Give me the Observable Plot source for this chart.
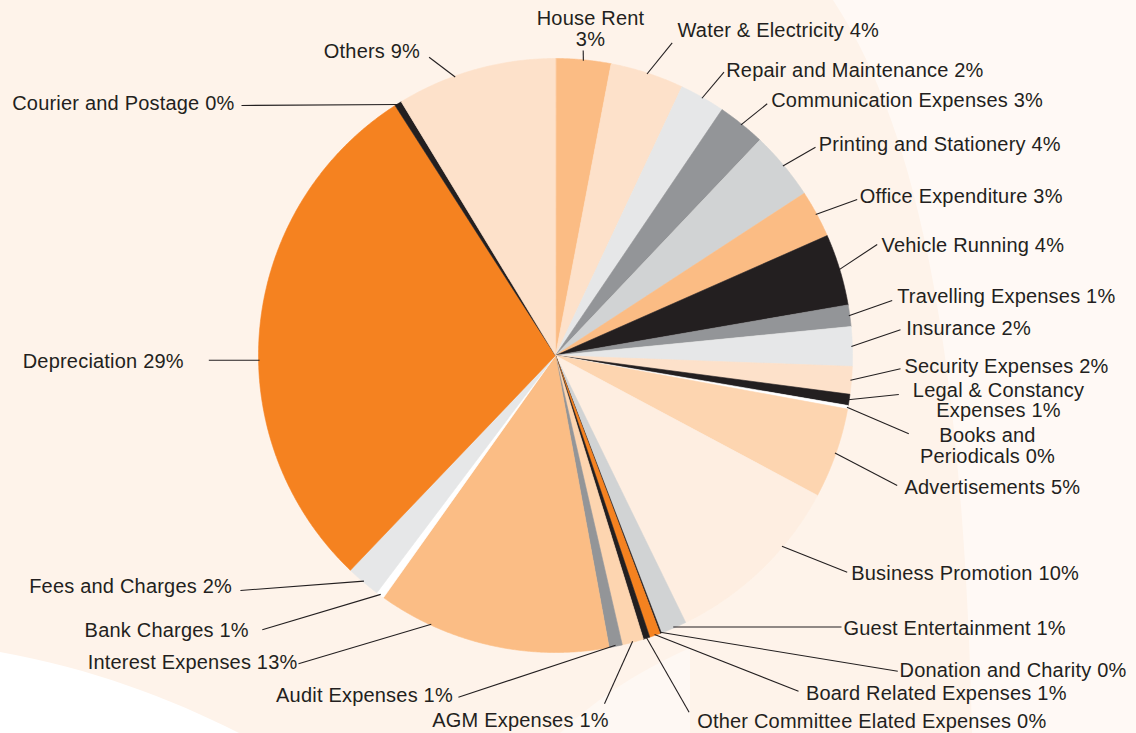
<!DOCTYPE html>
<html>
<head>
<meta charset="utf-8">
<script src="https://cdn.jsdelivr.net/npm/d3@7"></script>
<script src="https://cdn.jsdelivr.net/npm/@observablehq/plot@0.6"></script>
<style>
  html, body { margin: 0; padding: 0; background: #fef3ea; }
  #wrap { position: relative; width: 1136px; height: 733px; overflow: hidden; }
  #bg, #chart { position: absolute; left: 0; top: 0; }
  #chart svg text { letter-spacing: 0.2px; }
</style>
</head>
<body>
<div id="wrap">
  <svg id="bg" width="1136" height="733">
    <rect width="1136" height="733" fill="#fef3ea"/>
    <path d="M833,0 C905,110 962,300 972,733 L1136,733 L1136,0 Z" fill="#fff9f5"/>
    <path d="M0,652 C90,668 170,698 239,733 L0,733 Z" fill="#ffffff"/>
    <path d="M560,733 C600,695 645,668 690,648 C690,680 690,710 690,733 Z" fill="#fef8f3"/>
  </svg>
  <div id="chart"></div>
</div>
<script>
// ---- data ----
const categories = [
  "House Rent", "Water & Electricity", "Repair and Maintenance", "Communication Expenses",
  "Printing and Stationery", "Office Expenditure", "Vehicle Running", "Travelling Expenses",
  "Insurance", "Security Expenses", "Legal & Constancy Expenses", "Books and Periodicals",
  "Advertisements", "Business Promotion", "Guest Entertainment", "Donation and Charity",
  "Board Related Expenses", "Other Committee Elated Expenses", "AGM Expenses", "Audit Expenses",
  "Interest Expenses", "Bank Charges", "Fees and Charges", "Depreciation",
  "Courier and Postage", "Others"
];
// share of total (%)
const shares = [
  3.00, 4.00, 2.47, 2.61,
  3.72, 2.58, 3.89, 1.17,
  2.14, 1.50, 0.61, 0.19,
  4.92, 9.97, 1.42, 0.08,
  0.58, 0.36, 1.17, 0.72,
  12.72, 0.44, 1.86, 28.78,
  0.39, 8.69
];
// percentages as printed on the labels
const labelPct = [
  3, 4, 2, 3,
  4, 3, 4, 1,
  2, 2, 1, 0,
  5, 10, 1, 0,
  1, 0, 1, 1,
  13, 1, 2, 29,
  0, 9
];
const sliceColors = [
  "#fbbc84", "#fde1ca", "#e6e7e8", "#939598",
  "#d1d3d4", "#fbbc84", "#231f20", "#939598",
  "#e6e7e8", "#fde1ca", "#231f20", "#ffffff",
  "#fdd5b0", "#feeee1", "#d1d3d4", "#231f20",
  "#f58220", "#231f20", "#fdd5b0", "#939598",
  "#fbbd85", "#ffffff", "#e6e7e8", "#f58220",
  "#231f20", "#fde1ca"
];

// ---- layout (label placement, pixels) ----
const labelLayout = [
  {x: 590,   y: 28.7,  anchor: "middle", ex: 582.7, ey: 50,    br: "Rent"},
  {x: 677,   y: 30.7,  anchor: "start",  ex: 671.7, ey: 42.3},
  {x: 725.7, y: 70,    anchor: "start",  ex: 723.5, ey: 71.7},
  {x: 770.7, y: 100,   anchor: "start",  ex: 766.7, ey: 103.3},
  {x: 818.3, y: 144.7, anchor: "start",  ex: 815,   ey: 146.7},
  {x: 859.3, y: 196.7, anchor: "start",  ex: 856.7, ey: 199},
  {x: 881,   y: 245.3, anchor: "start",  ex: 876.7, ey: 244},
  {x: 896.7, y: 296.3, anchor: "start",  ex: 891.7, ey: 300},
  {x: 905.7, y: 328.3, anchor: "start",  ex: 900,   ey: 329.3},
  {x: 904,   y: 366.3, anchor: "start",  ex: 900,   ey: 368.3},
  {x: 998,   y: 400.4, anchor: "middle", ex: 898.3, ey: 394,   br: "Constancy"},
  {x: 987,   y: 445.5, anchor: "middle", ex: 908.3, ey: 433.3, br: "and"},
  {x: 904,   y: 487.3, anchor: "start",  ex: 896.7, ey: 485},
  {x: 850.7, y: 573.7, anchor: "start",  ex: 846.7, ey: 571.7, f: 0.334},
  {x: 843,   y: 628.3, anchor: "start",  ex: 841,   ey: 626.5},
  {x: 899,   y: 670.3, anchor: "start",  ex: 897.3, ey: 670.7},
  {x: 805.4, y: 693,   anchor: "start",  ex: 798,   ey: 690.7},
  {x: 696.7, y: 721.3, anchor: "start",  ex: 688.6, ey: 711.7},
  {x: 608.2, y: 720,   anchor: "end",    ex: 604,   ey: 703.3},
  {x: 452.4, y: 695.7, anchor: "end",    ex: 457.9, ey: 696.7},
  {x: 297,   y: 662.5, anchor: "end",    ex: 298,   ey: 663.3, f: 0.769},
  {x: 248.3, y: 630.3, anchor: "end",    ex: 261.8, ey: 629.3},
  {x: 231.5, y: 586.3, anchor: "end",    ex: 239.9, ey: 590},
  {x: 183.3, y: 361.5, anchor: "end",    ex: 208.3, ey: 359.7, f: 0.438},
  {x: 234,   y: 103.8, anchor: "end",    ex: 241,   ey: 105},
  {x: 419.6, y: 51.7,  anchor: "end",    ex: 428.6, ey: 56.7,  f: 0.367}
];

const W = 1136, H = 733, CX = 555, CY = 355, R = 297;

// ---- geometry from data ----
const total = d3.sum(shares);
let acc = 0;
const slices = categories.map((name, i) => {
  const a0 = acc / total * 2 * Math.PI;
  acc += shares[i];
  const a1 = acc / total * 2 * Math.PI;
  return {name, i, a0, a1, color: sliceColors[i]};
});

const piePts = [];
for (const s of slices) {
  piePts.push({name: s.name, x: CX, y: CY, color: s.color});
  const n = Math.max(2, Math.ceil((s.a1 - s.a0) / (0.25 * Math.PI / 180)));
  for (let k = 0; k <= n; k++) {
    const a = s.a0 + (s.a1 - s.a0) * k / n;
    piePts.push({name: s.name, x: CX + R * Math.sin(a), y: CY - R * Math.cos(a), color: s.color});
  }
}

const leaders = slices.map(s => {
  const L = labelLayout[s.i];
  const f = L.f ?? 0.5;
  const a = s.a0 + (s.a1 - s.a0) * f;
  return {x1: CX + (R - 1) * Math.sin(a), y1: CY - (R - 1) * Math.cos(a), x2: L.ex, y2: L.ey};
});

const labels = slices.map(s => {
  const L = labelLayout[s.i];
  let t = `${s.name} ${labelPct[s.i]}%`;
  if (L.br) t = t.replace(L.br + " ", L.br + "\n");
  return {text: t, x: L.x, y: L.y, anchor: L.anchor};
});

const textOpts = a => ({
  x: "x", y: "y", text: "text", textAnchor: a, lineAnchor: "middle",
  lineHeight: 1.045, dy: -0.6, fontSize: 20, fill: "#231f20",
  fontFamily: "'Liberation Sans', Arial, Helvetica, sans-serif"
});

const chart = Plot.plot({
  width: W, height: H,
  margin: 0,
  x: {domain: [0, W], range: [0, W], axis: null},
  y: {domain: [0, H], range: [0, H], axis: null},
  color: {type: "identity"},
  style: {background: "transparent", overflow: "visible"},
  marks: [
    Plot.line(piePts, {x: "x", y: "y", z: "name", fill: "color", stroke: "color",
      strokeWidth: 0.6, curve: "linear-closed"}),
    Plot.link(leaders, {x1: "x1", y1: "y1", x2: "x2", y2: "y2", stroke: "#231f20", strokeWidth: 1.1}),
    Plot.text(labels.filter(d => d.anchor === "start"), textOpts("start")),
    Plot.text(labels.filter(d => d.anchor === "middle"), textOpts("middle")),
    Plot.text(labels.filter(d => d.anchor === "end"), textOpts("end"))
  ]
});
document.getElementById("chart").appendChild(chart);
</script>
</body>
</html>
